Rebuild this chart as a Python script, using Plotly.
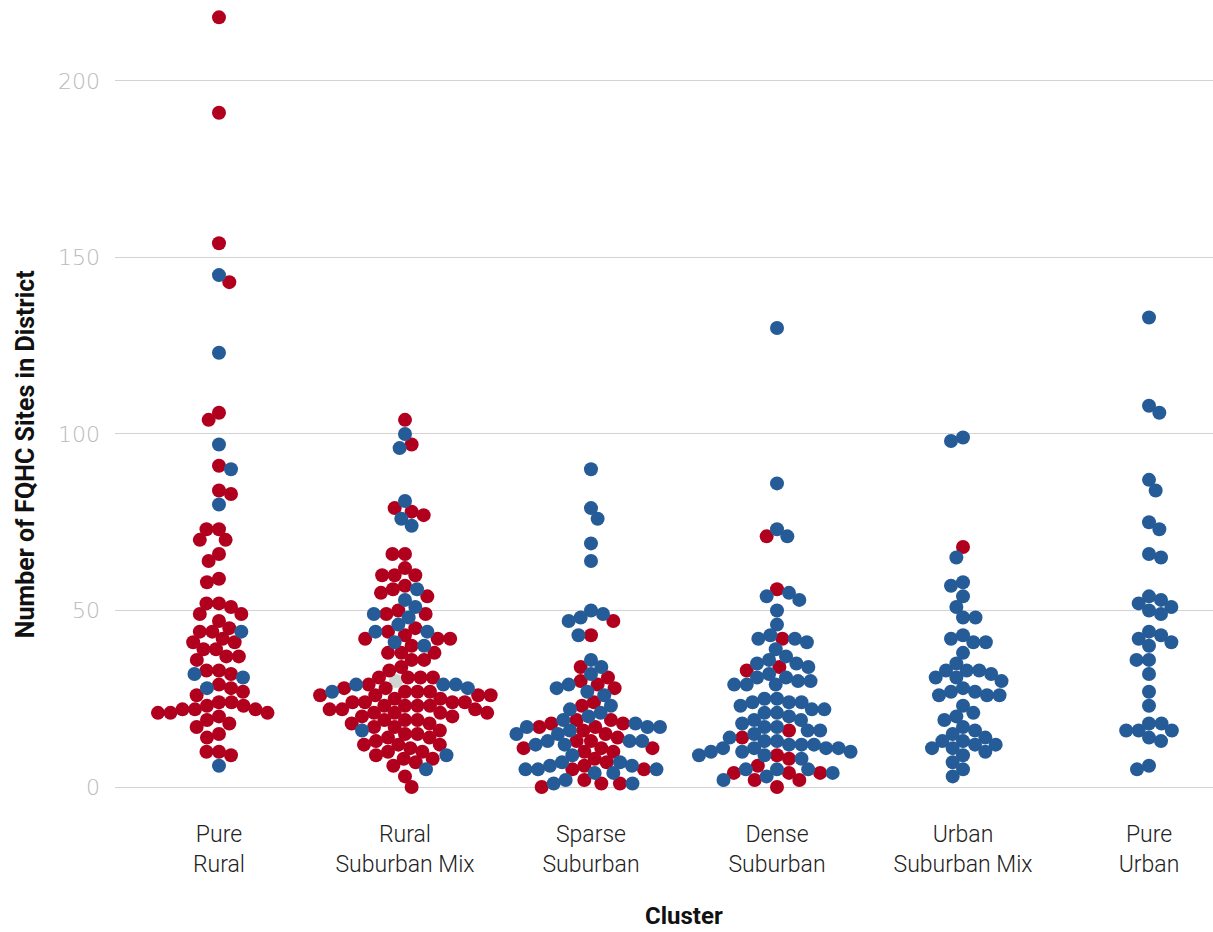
import math
import plotly.graph_objects as go

# ---------------- data ----------------
categories = ["Pure<br>Rural", "Rural<br>Suburban Mix", "Sparse<br>Suburban",
              "Dense<br>Suburban", "Urban<br>Suburban Mix", "Pure<br>Urban"]

pure_rural_red = [218, 191, 154, 143, 106, 104, 91, 84, 83, 73, 73, 70, 70, 66, 64, 59, 58,
                  52, 51, 52, 49, 49, 47, 45, 44, 44, 42, 41, 41, 39, 39, 37, 36, 37, 33, 32, 33,
                  29, 27, 26, 28, 24, 22, 21, 24, 23, 21, 23, 21, 22, 22, 20, 18, 17, 19, 15, 14,
                  10, 9, 10]
pure_rural_blue = [145, 123, 97, 90, 80, 44, 32, 31, 28, 6]
pure_rural_grey = []

rural_sub_red = [104, 97, 79, 78, 77, 66, 66, 62, 60, 60, 60, 57, 55, 56, 54, 50, 49, 49, 45,
                 44, 43, 42, 42, 42, 40, 38, 36, 38, 38, 36, 33, 34, 31, 31, 31, 31, 29,
                 28, 28, 27, 25, 26, 25, 26, 26, 26, 27, 27, 23, 22, 24, 22, 22, 23, 24, 24, 23,
                 23, 21, 20, 19, 20, 21, 21, 19, 17, 17, 19, 18, 18, 14, 15, 14, 15, 12, 10, 11,
                 12, 12, 9, 8, 8, 7, 6, 3, 0, 24, 21, 16, 13, 10]
rural_sub_blue = [100, 96, 81, 76, 74, 56, 53, 51, 48, 49, 46, 44, 44, 40, 41, 29, 29, 29,
                  28, 27, 16, 9, 5]
rural_sub_grey = [30]

sparse_red = [47, 43, 34, 31, 29, 30, 28, 24, 23, 18, 17, 18, 17, 19, 16, 19, 15, 14, 11, 10,
              13, 11, 13, 10, 11, 8, 5, 5, 7, 6, 2, 1, 0, 1]
sparse_blue = [90, 79, 76, 69, 64, 50, 49, 47, 48, 43, 36, 34, 32, 29, 28, 27, 26, 23, 22, 20,
               21, 17, 17, 18, 19, 16, 17, 15, 15, 13, 12, 12, 13, 13, 9, 7, 6, 5, 4, 7, 4, 5,
               5, 6, 1, 1, 2]
sparse_grey = []

dense_red = [71, 56, 42, 34, 33, 16, 14, 9, 8, 6, 4, 4, 4, 2, 2, 0]
dense_blue = [130, 86, 71, 73, 55, 53, 54, 50, 46, 42, 41, 42, 43, 39, 36, 37, 35, 34, 35, 32,
              31, 30, 29, 29, 29, 30, 31, 25, 24, 23, 22, 24, 24, 25, 22, 21, 20, 19, 19, 21,
              18, 17, 15, 16, 16, 17, 14, 13, 12, 11, 12, 12, 13, 11, 10, 10, 8, 9, 9, 10, 11,
              11, 5, 4, 3, 2, 5, 5]
dense_grey = []

urban_sub_red = [68]
urban_sub_blue = [99, 98, 65, 58, 57, 54, 51, 48, 48, 42, 41, 41, 43, 38, 35, 33, 33, 31, 30,
                  31, 32, 33, 27, 26, 26, 26, 27, 28, 23, 21, 20, 19, 17, 16, 15, 14, 13, 12,
                  11, 10, 11, 12, 13, 9, 7, 5, 3]
urban_sub_grey = []

pure_urban_red = []
pure_urban_blue = [133, 108, 106, 87, 84, 75, 73, 66, 65, 54, 53, 51, 52, 50, 49, 43, 44, 42,
                   41, 40, 36, 36, 32, 27, 23, 18, 18, 16, 16, 16, 14, 13, 6, 5]
pure_urban_grey = []

groups = ["Republican", "Democrat", "Other"]
red_sets = [pure_rural_red, rural_sub_red, sparse_red, dense_red, urban_sub_red, pure_urban_red]
blue_sets = [pure_rural_blue, rural_sub_blue, sparse_blue, dense_blue, urban_sub_blue, pure_urban_blue]
grey_sets = [pure_rural_grey, rural_sub_grey, sparse_grey, dense_grey, urban_sub_grey, pure_urban_grey]

colors = {"Republican": "#B0001E", "Democrat": "#255B97", "Other": "#CFD5D2"}

# ---------------- beeswarm layout (pixel space) ----------------
PX_X = 186.0   # pixels per category unit
PX_Y = 3.53    # pixels per value unit
DIAM = 12.5    # collision distance in pixels


def swarm(values):
    order = sorted(range(len(values)), key=lambda i: -values[i])
    placed = []
    out = [0.0] * len(values)
    for k, i in enumerate(order):
        y = values[i] * PX_Y
        near = [(px, py) for px, py in placed if abs(py - y) < DIAM]
        cands = [0.0]
        for px, py in near:
            w = math.sqrt(DIAM * DIAM - (py - y) ** 2)
            cands += [px + w + 0.01, px - w - 0.01]
        sgn = 1 if k % 2 == 0 else -1
        cands.sort(key=lambda c: (round(abs(c), 3), -sgn * c))
        for c in cands:
            if all((c - px) ** 2 + (y - py) ** 2 >= DIAM * DIAM - 1e-6 for px, py in near):
                out[i] = c
                break
        placed.append((out[i], y))
    return out


traces = {g: {"x": [], "y": []} for g in groups}
for ci in range(len(categories)):
    vals, labs = [], []
    for g, s in zip(groups, [red_sets[ci], blue_sets[ci], grey_sets[ci]]):
        vals += s
        labs += [g] * len(s)
    offs = swarm(vals)
    for v, g, o in zip(vals, labs, offs):
        traces[g]["x"].append(ci + o / PX_X)
        traces[g]["y"].append(v)

fig = go.Figure()
for g in ["Other", "Republican", "Democrat"]:
    fig.add_trace(go.Scatter(
        x=traces[g]["x"], y=traces[g]["y"], mode="markers", name=g,
        marker=dict(size=14, color=colors[g], line=dict(width=0)),
        hovertemplate="%{y}<extra>" + g + "</extra>"))

SANS = "Roboto, sans-serif"

fig.update_layout(
    width=1213, height=932,
    margin=dict(l=115, r=0, t=5, b=132),
    plot_bgcolor="white", paper_bgcolor="white",
    showlegend=False,
    annotations=[
        dict(text="Cluster", x=0.518, y=-0.146, xref="paper", yref="paper",
             showarrow=False, yanchor="middle",
             font=dict(family=SANS, size=24, color="#111", weight="bold")),
        dict(text="Number of FQHC Sites in District", x=-0.082, y=0.435,
             xref="paper", yref="paper", showarrow=False, textangle=-90,
             xanchor="center", yanchor="middle",
             font=dict(family=SANS, size=25, color="#111", weight="bold")),
    ],
)
fig.update_xaxes(
    range=[-0.559, 5.344], tickvals=list(range(len(categories))), ticktext=categories,
    showgrid=False, zeroline=False, showline=False, ticks="",
    tickfont=dict(family=SANS, size=23, color="#222", weight=300), ticklabelstandoff=18,
)
fig.update_yaxes(
    range=[-3.68, 221.5], tickvals=[0, 50, 100, 150, 200],
    showgrid=True, gridcolor="#d3d3d3", gridwidth=1, zeroline=False, showline=False, ticks="",
    tickfont=dict(family="DejaVu Sans, sans-serif", size=22, color="#bababa", weight=200),
    ticklabelstandoff=14,
)

fig.write_html("out.html", config={"displayModeBar": False},
               post_script="document.body.style.margin='0';")
